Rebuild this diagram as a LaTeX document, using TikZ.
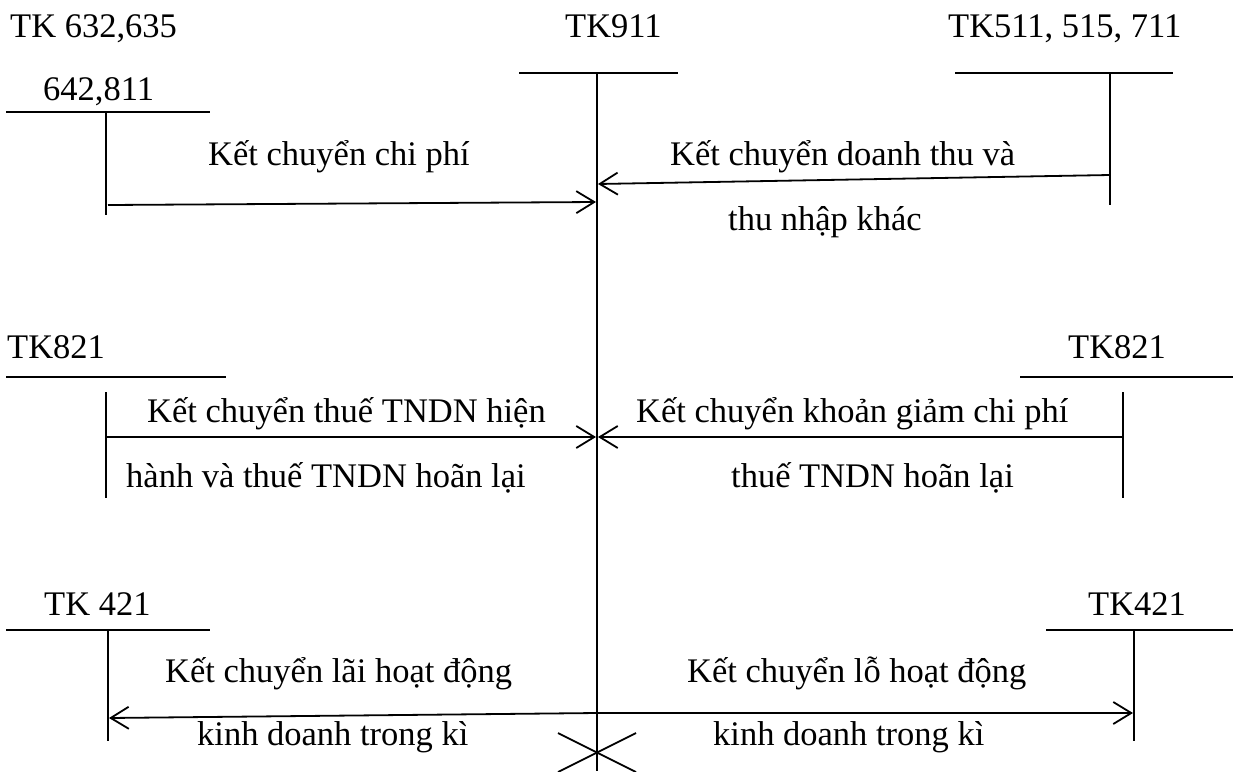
\documentclass[tikz,border=0pt]{standalone}
\usepackage{fontspec}
\setmainfont{Liberation Serif}
\usetikzlibrary{arrows.meta}
\begin{document}
\begin{tikzpicture}[x=1pt,y=-1pt,
  acct/.style={line width=1.8pt},
  flow/.style={line width=1.8pt,-{Straight Barb[length=18pt,width=22pt,line width=1.8pt]}},
  lbl/.style={anchor=base west,inner sep=0pt,font=\fontsize{34.5}{40}\selectfont}]
\useasboundingbox (0,0) rectangle (1233,771);

% TK911 (central account)
\coordinate (c1) at (519,73);
\coordinate (c2) at (678,73);
\coordinate (ctop) at (597,73);
\coordinate (cbot) at (597,771);
\draw[acct] (c1) -- (c2);
\draw[acct] (ctop) -- (cbot);
\node[lbl] (t911) at (565,37) {TK911};

% TK 632,635,642,811
\coordinate (a1) at (6,112);
\coordinate (a2) at (210,112);
\coordinate (at) at (106,112);
\coordinate (ab) at (106,215);
\draw[acct] (a1) -- (a2);
\draw[acct] (at) -- (ab);
\node[lbl] (ta) at (10,37) {TK 632,635};
\node[lbl] (ta2) at (43,100) {642,811};

% TK511, 515, 711
\coordinate (b1) at (955,73);
\coordinate (b2) at (1173,73);
\coordinate (bt) at (1110,73);
\coordinate (bb) at (1110,205);
\draw[acct] (b1) -- (b2);
\draw[acct] (bt) -- (bb);
\node[lbl] (tb) at (948,37) {TK511, 515, 711};

% TK821 left
\coordinate (d1) at (6,377);
\coordinate (d2) at (226,377);
\coordinate (dt) at (106,392);
\coordinate (db) at (106,498);
\draw[acct] (d1) -- (d2);
\draw[acct] (dt) -- (db);
\node[lbl] (td) at (7,358) {TK821};

% TK821 right
\coordinate (e1) at (1020,377);
\coordinate (e2) at (1233,377);
\coordinate (et) at (1123,392);
\coordinate (eb) at (1123,498);
\draw[acct] (e1) -- (e2);
\draw[acct] (et) -- (eb);
\node[lbl] (te) at (1068,358) {TK821};

% TK 421 left
\coordinate (f1) at (6,630);
\coordinate (f2) at (210,630);
\coordinate (ft) at (108,630);
\coordinate (fb) at (108,741);
\draw[acct] (f1) -- (f2);
\draw[acct] (ft) -- (fb);
\node[lbl] (tf) at (44,615) {TK 421};

% TK421 right
\coordinate (g1) at (1046,630);
\coordinate (g2) at (1233,630);
\coordinate (gt) at (1134,630);
\coordinate (gb) at (1134,741);
\draw[acct] (g1) -- (g2);
\draw[acct] (gt) -- (gb);
\node[lbl] (tg) at (1088,615) {TK421};

% transfers
\coordinate (p1s) at (108,205);
\coordinate (p1e) at (596,202);
\draw[flow] (p1s) -- (p1e);
\node[lbl] (l1) at (208,165) {Kết chuyển chi phí};

\coordinate (p2s) at (1110,175);
\coordinate (p2e) at (598,184);
\draw[flow] (p2s) -- (p2e);
\node[lbl] (l2a) at (670,165) {Kết chuyển doanh thu và};
\node[lbl] (l2b) at (728,230) {thu nhập khác};

\coordinate (p3s) at (106,437);
\coordinate (p3e) at (596,437);
\draw[flow] (p3s) -- (p3e);
\node[lbl] (l3a) at (147,422) {Kết chuyển thuế TNDN hiện};
\node[lbl] (l3b) at (126,487) {hành và thuế TNDN hoãn lại};

\coordinate (p4s) at (1123,437);
\coordinate (p4e) at (598,437);
\draw[flow] (p4s) -- (p4e);
\node[lbl] (l4a) at (636,422) {Kết chuyển khoản giảm chi phí};
\node[lbl] (l4b) at (731,487) {thuế TNDN hoãn lại};

\coordinate (p5s) at (597,713);
\coordinate (p5e) at (109,718);
\draw[flow] (p5s) -- (p5e);
\node[lbl] (l5a) at (165,682) {Kết chuyển lãi hoạt động};
\node[lbl] (l5b) at (197,745) {kinh doanh trong kì};

\coordinate (p6e) at (1133,713);
\draw[flow] (p5s) -- (p6e);
\node[lbl] (l6a) at (687,682) {Kết chuyển lỗ hoạt động};
\node[lbl] (l6b) at (713,745) {kinh doanh trong kì};

% closing cross
\coordinate (x1) at (558,733);
\coordinate (x2) at (636,772);
\coordinate (x3) at (636,733);
\coordinate (x4) at (558,772);
\draw[acct] (x1) -- (x2);
\draw[acct] (x3) -- (x4);
\end{tikzpicture}
\end{document}
